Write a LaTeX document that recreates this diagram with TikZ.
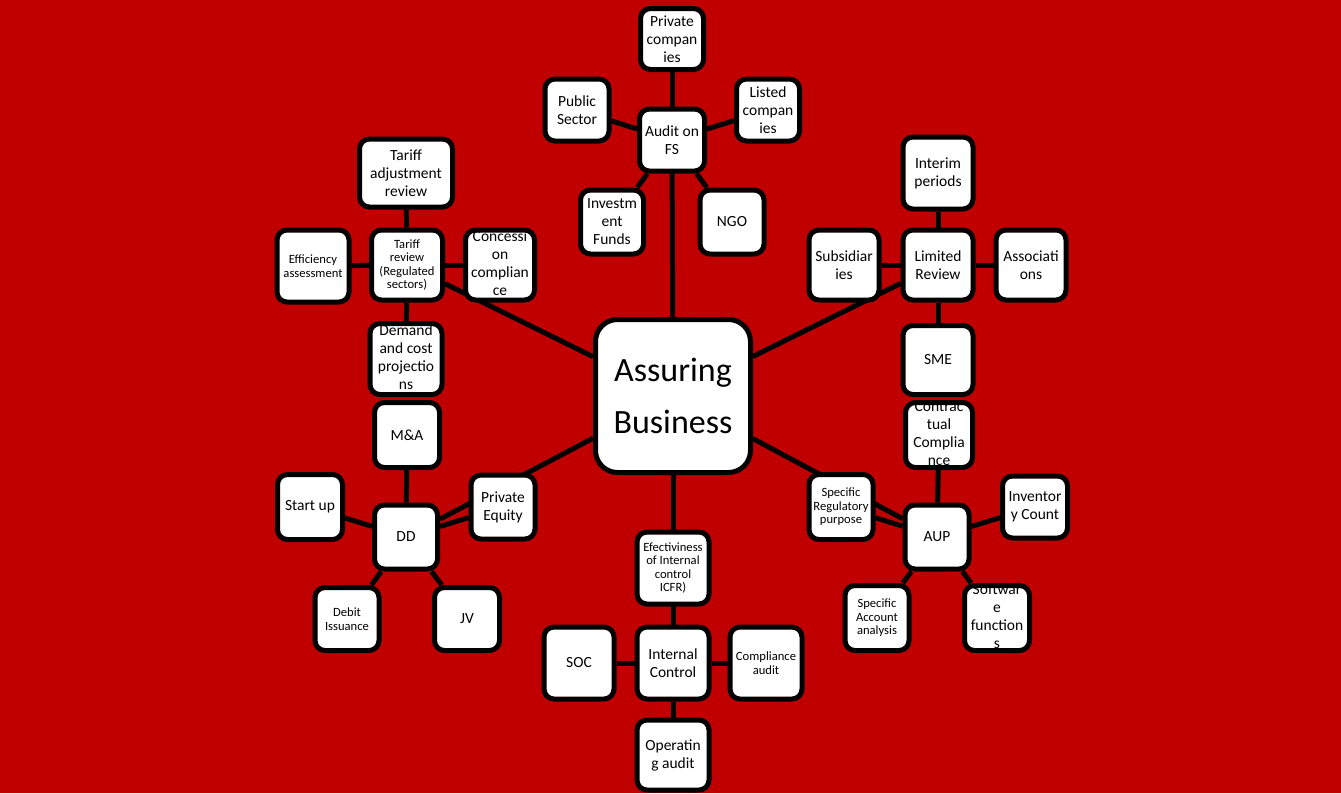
\documentclass[tikz,border=0pt]{standalone}
\usepackage{fontspec}
\setmainfont{Carlito}
\pgfdeclarelayer{bg}
\pgfdeclarelayer{edges}
\pgfsetlayers{bg,edges,main}
\definecolor{bgred}{RGB}{192,0,0}
\newcommand\ovf[1]{\vbox to 0pt{\vss\hbox{\begin{tabular}{@{}c@{}}#1\end{tabular}}\vss}}
\tikzset{
  box/.style={draw=black, fill=white, line width=5pt, rounded corners=10pt,
    inner sep=0pt, align=center, text=black, font=\fontsize{15.5}{18}\selectfont},
  small/.style={font=\fontsize{12.6}{13.6}\selectfont},
  sz/.style 2 args={minimum width=#1pt, minimum height=#2pt},
  link/.style={draw=black, line width=5pt},
}
\begin{document}
\begin{tikzpicture}[x=1pt,y=-1pt]
\begin{pgfonlayer}{bg}
\fill[bgred] (0,0) rectangle (1341,793);
\end{pgfonlayer}
\useasboundingbox (0,0) rectangle (1341,793);

% centre
\node[box, rounded corners=22pt, sz={155}{153}, font=\fontsize{34}{52}\selectfont] (c) at (673,396) {Assuring\\Business};

% top cluster
\node[box, sz={63}{61}] (pc) at (672,39) {Private\\compan\\ies};
\node[box, sz={64}{62}] (ps) at (577,110) {Public\\Sector};
\node[box, sz={63}{62}] (lc) at (768,110) {Listed\\compan\\ies};
\node[box, sz={65}{62}] (afs) at (672,140) {Audit on\\FS};
\node[box, sz={63}{64}] (inv) at (612,222) {Investm\\ent\\Funds};
\node[box, sz={64}{64}] (ngo) at (732,222) {NGO};

% upper left cluster
\node[box, sz={93}{68}] (tar) at (406,173) {Tariff\\adjustment\\review};
\node[box, small, sz={72}{72}] (eff) at (313,266) {Efficiency\\assessment};
\node[box, small, sz={71}{70}] (trv) at (407,265) {Tariff\\review\\(Regulated\\sectors)};
\node[box, sz={69}{70}] (con) at (500,265) {\ovf{Concessi\\on\\complian\\ce}};
\node[box, sz={72}{71}] (dem) at (406,359) {\ovf{Demand\\and cost\\projectio\\ns}};

% lower left cluster
\node[box, sz={65}{65}] (ma) at (407,435) {M\&A};
\node[box, sz={65}{65}] (su) at (310,507) {Start up};
\node[box, sz={63}{64}] (dd) at (406,537) {DD};
\node[box, sz={64}{64}] (pe) at (503,507) {Private\\Equity};
\node[box, small, sz={64}{63}] (di) at (347,619) {Debit\\Issuance};
\node[box, sz={65}{63}] (jv) at (467,619) {JV};

% bottom cluster
\node[box, small, sz={72}{72}] (ef) at (673,568) {Efectiviness\\of Internal\\control\\ICFR)};
\node[box, sz={70}{72}] (soc) at (579,663) {SOC};
\node[box, sz={72}{72}] (ic) at (673,663) {Internal\\Control};
\node[box, small, sz={72}{72}] (ca) at (766,663) {Compliance\\audit};
\node[box, sz={72}{70}] (op) at (673,755) {Operatin\\g audit};

% upper right cluster
\node[box, sz={70}{72}] (ip) at (938,173) {Interim\\periods};
\node[box, sz={70}{70}] (sub) at (844,265) {Subsidiar\\ies};
\node[box, sz={70}{70}] (lr) at (938,265) {Limited\\Review};
\node[box, sz={70}{70}] (as) at (1031,265) {Associati\\ons};
\node[box, sz={70}{69}] (sme) at (938,360) {SME};

% lower right cluster
\node[box, sz={67}{65}] (cc) at (939,435) {\ovf{Contrac\\tual\\Complia\\nce}};
\node[box, small, sz={64}{65}] (sr) at (841,507) {Specific\\Regulatory\\purpose};
\node[box, sz={64}{64}] (aup) at (937,537) {AUP};
\node[box, sz={65}{62}] (inc) at (1035,507) {Inventor\\y Count};
\node[box, small, sz={64}{65}] (sa) at (877,618) {Specific\\Account\\analysis};
\node[box, sz={65}{65}] (sw) at (997,618) {\ovf{Softwar\\e\\function\\s}};

\begin{pgfonlayer}{edges}
\draw[link] (c) -- (afs);
\draw[link] (afs) -- (pc);
\draw[link] (afs) -- (ps);
\draw[link] (afs) -- (lc);
\draw[link] (afs) -- (inv);
\draw[link] (afs) -- (ngo);
\draw[link] (c) -- (trv);
\draw[link] (trv) -- (tar);
\draw[link] (trv) -- (eff);
\draw[link] (trv) -- (con);
\draw[link] (trv) -- (dem);
\draw[link] (c) -- (lr);
\draw[link] (lr) -- (ip);
\draw[link] (lr) -- (sub);
\draw[link] (lr) -- (as);
\draw[link] (lr) -- (sme);
\draw[link] (c) -- (dd);
\draw[link] (dd) -- (ma);
\draw[link] (dd) -- (su);
\draw[link] (dd) -- (pe);
\draw[link] (dd) -- (di);
\draw[link] (dd) -- (jv);
\draw[link] (c) -- (ic);
\draw[link] (ic) -- (ef);
\draw[link] (ic) -- (soc);
\draw[link] (ic) -- (ca);
\draw[link] (ic) -- (op);
\draw[link] (c) -- (aup);
\draw[link] (aup) -- (cc);
\draw[link] (aup) -- (sr);
\draw[link] (aup) -- (inc);
\draw[link] (aup) -- (sa);
\draw[link] (aup) -- (sw);
\end{pgfonlayer}
\end{tikzpicture}
\end{document}
